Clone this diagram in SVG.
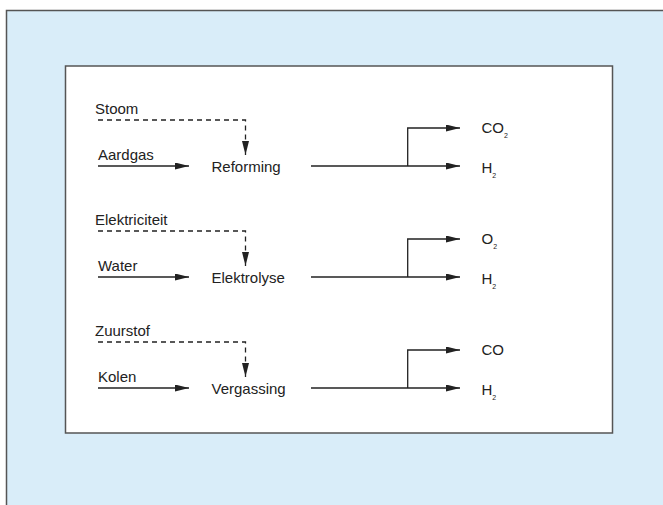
<svg xmlns="http://www.w3.org/2000/svg" width="663" height="505" viewBox="0 0 663 505">
<style>
text{font-family:"Liberation Sans",Arial,sans-serif;font-size:15px;fill:#222}
.sub{font-size:7px}
.ln{fill:none;stroke:#222;stroke-width:1.3}
.ds{fill:none;stroke:#222;stroke-width:1.3;stroke-dasharray:5 4}
</style>
<defs>
<marker id="ah" viewBox="0 0 14 7" refX="14" refY="3.5" markerWidth="14" markerHeight="7" orient="auto" markerUnits="userSpaceOnUse"><path d="M0,0 L14,3.5 L0,7 z" fill="#222"/></marker>
</defs>
<rect x="6.5" y="10.5" width="700" height="550" fill="#d9edf9" stroke="#555" stroke-width="1.5"/>
<rect x="65.5" y="66" width="547" height="367" fill="#fff" stroke="#555" stroke-width="1.5"/>
<g id="connectors">
<g id="row1">
<path class="ds" d="M98,120 H245.5 V155" marker-end="url(#ah)"/>
<path class="ln" d="M98,166 H189" marker-end="url(#ah)"/>
<path class="ln" d="M311,166 H460" marker-end="url(#ah)"/>
<path class="ln" d="M407.7,166 V128 H460" marker-end="url(#ah)"/>
</g>
<g id="row2" transform="translate(0,111)">
<path class="ds" d="M98,120 H245.5 V155" marker-end="url(#ah)"/>
<path class="ln" d="M98,166 H189" marker-end="url(#ah)"/>
<path class="ln" d="M311,166 H460" marker-end="url(#ah)"/>
<path class="ln" d="M407.7,166 V128 H460" marker-end="url(#ah)"/>
</g>
<g id="row3" transform="translate(0,222)">
<path class="ds" d="M98,120 H245.5 V155" marker-end="url(#ah)"/>
<path class="ln" d="M98,166 H189" marker-end="url(#ah)"/>
<path class="ln" d="M311,166 H460" marker-end="url(#ah)"/>
<path class="ln" d="M407.7,166 V128 H460" marker-end="url(#ah)"/>
</g>
</g>
<g id="stoom"><text x="95" y="114">Stoom</text></g>
<g id="aardgas"><text x="98" y="160">Aardgas</text></g>
<g id="reforming"><text x="211.5" y="172.3">Reforming</text></g>
<g id="co2"><text x="481.5" y="132.7">CO<tspan class="sub" dy="5">2</tspan></text></g>
<g id="h2a"><text x="481.5" y="173">H<tspan class="sub" dy="5">2</tspan></text></g>
<g id="elektriciteit"><text x="95" y="225">Elektriciteit</text></g>
<g id="water"><text x="98" y="271">Water</text></g>
<g id="elektrolyse"><text x="211.5" y="283.3">Elektrolyse</text></g>
<g id="o2"><text x="481.5" y="243.7">O<tspan class="sub" dy="5">2</tspan></text></g>
<g id="h2b"><text x="481.5" y="284">H<tspan class="sub" dy="5">2</tspan></text></g>
<g id="zuurstof"><text x="95" y="336">Zuurstof</text></g>
<g id="kolen"><text x="98" y="382">Kolen</text></g>
<g id="vergassing"><text x="211.5" y="394.3">Vergassing</text></g>
<g id="co"><text x="481.5" y="354.7">CO</text></g>
<g id="h2c"><text x="481.5" y="395">H<tspan class="sub" dy="5">2</tspan></text></g>
</svg>
